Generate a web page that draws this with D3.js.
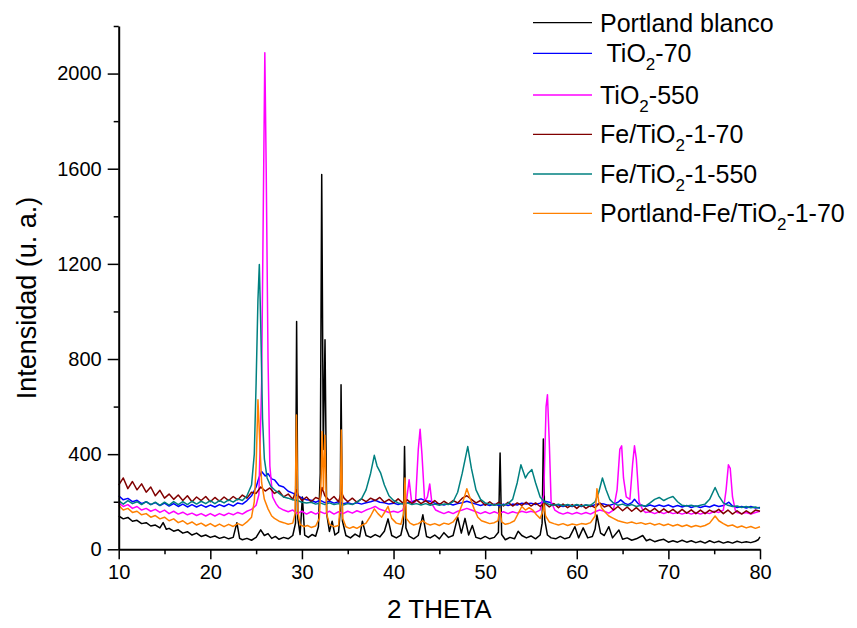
<!DOCTYPE html>
<html>
<head>
<meta charset="utf-8">
<title>DRX</title>
<script src="https://cdn.jsdelivr.net/npm/d3@7"></script>
<style>
  body { margin: 0; background: #fff; }
  text { font-family: Arial, "Liberation Sans", sans-serif; fill: #000; }
  .tick text { font-size: 20px; }
  .legend text { white-space: pre; }
</style>
</head>
<body>
<script>
// patterns: [2 theta, intensity]
const portlandBlanco = [
  [10,140],[10.5,128],[11,134],[11.5,118],[12,122],[12.5,108],[13,112],[13.5,98],[14,102],[14.5,90],[14.85,112],[15.2,84],[15.5,88],[16,76],[16.5,82],[17,68],[17.5,74],[18,60],[18.5,68],[19,54],[19.5,60],[20,50],[20.5,56],[21,46],[21.5,52],[22,44],[22.5,50],[22.9,112],[23.2,46],[23.5,40],[24,46],[24.5,38],[25,50],[25.5,82],[25.9,58],[26.3,66],[26.7,46],[27.1,54],[27.5,42],[28,50],[28.5,44],[29,58],[29.3,110],[29.42,958],[29.55,130],[29.8,62],[30.05,220],[30.3,60],[30.7,50],[31.1,62],[31.5,55],[31.8,95],[32.0,320],[32.16,1576],[32.33,420],[32.52,881],[32.7,150],[33.0,75],[33.3,118],[33.6,60],[34.0,72],[34.18,160],[34.27,692],[34.42,120],[34.8,58],[35.3,48],[35.8,64],[36.3,52],[36.6,118],[37.0,58],[37.5,50],[38,62],[38.5,52],[39,76],[39.4,128],[39.8,58],[40.3,48],[40.8,60],[41.08,110],[41.2,432],[41.35,90],[41.7,55],[42.2,44],[42.7,58],[43.2,145],[43.6,54],[44,48],[44.5,60],[45,44],[45.5,70],[46,50],[46.5,58],[47,135],[47.4,68],[47.8,130],[48.2,60],[48.6,100],[49,50],[49.5,44],[50,54],[50.5,44],[51,50],[51.45,72],[51.63,405],[51.8,62],[52.2,40],[52.7,50],[53.2,44],[53.6,76],[54,58],[54.5,48],[55,56],[55.5,44],[56,60],[56.22,110],[56.35,464],[56.5,125],[56.8,60],[57.2,48],[57.7,44],[58.2,54],[58.7,44],[59.2,50],[59.8,95],[60.2,48],[60.7,90],[61.2,48],[61.7,54],[62.0,85],[62.2,144],[62.6,68],[63.0,58],[63.5,95],[63.9,48],[64.6,81],[65.0,42],[65.5,48],[66,38],[66.5,44],[67.2,58],[67.6,36],[68,42],[68.5,32],[69,38],[69.5,42],[70,30],[70.5,36],[71,30],[71.5,38],[72,30],[72.5,36],[73,28],[73.5,34],[74,26],[74.5,36],[75,28],[75.5,34],[76,26],[76.5,32],[77,26],[77.5,34],[78,28],[78.5,32],[79,28],[79.5,34],[79.8,40],[80,52]
];

const tio2_70 = [
  [10,225],[10.5,208],[11,214],[11.5,200],[12,206],[12.5,192],[13,200],[13.5,188],[14,196],[14.5,184],[15,194],[15.5,182],[16,192],[16.5,180],[17,190],[17.5,178],[18,188],[18.5,178],[19,187],[19.5,177],[20,186],[20.5,178],[21,188],[21.5,180],[22,190],[22.5,182],[23,195],[23.5,190],[24,205],[24.5,225],[25,262],[25.3,300],[25.6,327],[26,308],[26.3,318],[26.7,296],[27,292],[27.5,268],[28,262],[28.5,244],[29,236],[29.5,226],[30,216],[30.5,208],[31,206],[31.5,198],[32,206],[32.5,196],[33,202],[33.5,194],[34,200],[34.5,192],[35,196],[35.5,190],[36,196],[36.5,190],[37,196],[37.5,200],[38,206],[38.5,198],[39,196],[39.5,190],[40,194],[40.5,188],[41,194],[41.5,196],[42,200],[42.5,206],[43,212],[43.5,204],[44,202],[44.5,194],[45,192],[45.5,186],[46,192],[46.5,186],[47,192],[47.5,196],[48,202],[48.5,196],[49,190],[49.5,184],[50,190],[50.5,184],[51,190],[51.5,184],[52,190],[52.5,184],[53,190],[53.5,186],[54,194],[54.5,190],[55,194],[55.5,188],[56,194],[56.5,202],[57,198],[57.5,188],[58,186],[58.5,180],[59,186],[59.5,180],[60,186],[60.5,180],[61,186],[61.5,180],[62,188],[62.5,192],[63,190],[63.5,184],[64,190],[64.5,198],[64.8,208],[65.2,194],[65.6,188],[66,196],[66.3,210],[66.7,192],[67,186],[67.5,180],[68,186],[68.5,180],[69,186],[69.5,180],[70,186],[70.5,178],[71,184],[71.5,178],[72,184],[72.5,176],[73,182],[73.5,176],[74,182],[74.5,178],[75,186],[75.5,180],[76,184],[76.6,198],[77,182],[77.5,176],[78,180],[78.5,174],[79,180],[79.5,174],[80,176]
];

const tio2_550 = [
  [10,195],[10.5,180],[11,188],[11.5,172],[12,180],[12.5,165],[13,172],[13.5,160],[14,168],[14.5,155],[15,165],[15.5,150],[16,160],[16.5,148],[17,156],[17.5,145],[18,152],[18.5,142],[19,150],[19.5,140],[20,150],[20.5,140],[21,150],[21.5,142],[22,152],[22.5,145],[23,155],[23.5,148],[24,160],[24.5,168],[25,185],[25.3,230],[25.6,700],[25.8,1500],[25.95,2088],[26.1,1600],[26.3,800],[26.5,350],[26.8,220],[27.2,190],[27.5,175],[28,165],[28.5,158],[29,165],[29.5,150],[30,160],[30.5,148],[31,158],[31.5,148],[32,158],[32.5,150],[33,160],[33.5,148],[34,158],[34.5,150],[35,160],[35.5,152],[36,162],[36.5,155],[37,165],[37.5,172],[38,180],[38.5,168],[39,162],[39.5,155],[40,160],[40.5,155],[41,165],[41.4,200],[41.7,292],[42.0,190],[42.4,200],[42.7,420],[42.9,505],[43.1,400],[43.4,200],[43.7,220],[43.95,275],[44.2,190],[44.6,165],[45,158],[45.5,150],[46,158],[46.5,150],[47,160],[47.5,165],[48,172],[48.5,165],[49,158],[49.5,150],[50,158],[50.5,150],[51,158],[51.5,150],[52,158],[52.5,150],[53,158],[53.5,152],[54,160],[54.5,155],[55,160],[55.5,155],[56,165],[56.4,230],[56.65,600],[56.8,650],[57.0,450],[57.2,200],[57.6,165],[58,155],[58.5,148],[59,155],[59.5,148],[60,155],[60.5,148],[61,155],[61.5,148],[62,158],[62.5,165],[63,160],[63.5,152],[64,165],[64.4,250],[64.7,420],[64.9,435],[65.1,300],[65.4,220],[65.8,210],[66.1,360],[66.3,435],[66.5,380],[66.8,200],[67.2,165],[67.5,155],[68,158],[68.5,150],[69,158],[69.5,150],[70,158],[70.5,150],[71,155],[71.5,148],[72,155],[72.5,148],[73,155],[73.5,148],[74,155],[74.5,150],[75,160],[75.5,155],[76,165],[76.3,250],[76.55,355],[76.75,340],[77.0,220],[77.3,165],[77.5,155],[78,150],[78.5,155],[79,148],[79.5,155],[80,160]
];

const feTio2_70 = [
  [10,270],[10.5,300],[11,255],[11.5,285],[12,250],[12.5,275],[13,240],[13.5,262],[14,225],[14.5,248],[15,215],[15.5,232],[16,210],[16.5,228],[17,205],[17.5,225],[18,200],[18.5,220],[19,205],[19.5,222],[20,200],[20.5,218],[21,202],[21.5,220],[22,205],[22.5,222],[23,208],[23.5,228],[24,215],[24.5,240],[25,235],[25.5,262],[26,245],[26.5,258],[27,235],[27.5,245],[28,220],[28.5,232],[29,210],[29.4,250],[29.6,225],[30,205],[30.5,220],[31,200],[31.5,218],[32,210],[32.2,260],[32.5,225],[33,205],[33.5,222],[34,200],[34.3,240],[34.6,215],[35,200],[35.5,215],[36,198],[36.5,212],[37,200],[37.5,215],[38,205],[38.5,218],[39,198],[39.5,210],[40,195],[40.5,212],[41,195],[41.5,208],[42,192],[42.5,208],[43,192],[43.5,205],[44,190],[44.5,205],[45,188],[45.5,202],[46,190],[46.5,205],[47,195],[47.5,215],[48,225],[48.5,210],[49,195],[49.5,205],[50,185],[50.5,200],[51,185],[51.5,198],[52,182],[52.5,198],[53,182],[53.5,195],[54,185],[54.5,198],[55,182],[55.5,195],[56,180],[56.5,195],[57,178],[57.5,192],[58,175],[58.5,190],[59,175],[59.5,188],[60,172],[60.5,188],[61,172],[61.5,185],[62,175],[62.5,195],[63,178],[63.5,185],[64,165],[64.5,180],[65,162],[65.5,178],[66,160],[66.5,175],[67,158],[67.5,172],[68,158],[68.5,172],[69,155],[69.5,170],[70,155],[70.5,168],[71,152],[71.5,168],[72,152],[72.5,166],[73,150],[73.5,165],[74,150],[74.5,165],[75,155],[75.5,168],[76,150],[76.5,165],[77,148],[77.5,162],[78,148],[78.5,162],[79,150],[79.5,165],[80,160]
];

const feTio2_550 = [
  [10,205],[10.5,190],[11,205],[11.5,192],[12,200],[12.5,188],[13,200],[13.5,188],[14,198],[14.5,185],[15,198],[15.5,186],[16,200],[16.5,188],[17,200],[17.5,188],[18,202],[18.5,190],[19,202],[19.5,192],[20,205],[20.5,192],[21,205],[21.5,195],[22,208],[22.5,198],[23,212],[23.5,205],[24,225],[24.5,270],[24.8,400],[25.0,700],[25.2,1050],[25.35,1197],[25.5,950],[25.7,550],[25.9,380],[26.2,300],[26.6,265],[27,250],[27.5,235],[28,220],[28.5,215],[29,208],[29.5,205],[30,198],[30.5,195],[31,198],[31.5,190],[32,195],[32.5,188],[33,195],[33.5,188],[34,192],[34.5,186],[35,192],[35.5,188],[36,198],[36.5,212],[37,250],[37.5,320],[37.9,395],[38.2,350],[38.6,320],[39,270],[39.5,225],[40,205],[40.5,195],[41,190],[41.5,195],[42,188],[42.5,192],[43,186],[43.5,192],[44,185],[44.5,190],[45,185],[45.5,190],[46,188],[46.5,200],[47,240],[47.5,320],[48.1,432],[48.5,340],[49,250],[49.5,210],[50,195],[50.5,190],[51,185],[51.5,190],[52,185],[52.5,192],[53,210],[53.5,280],[53.9,355],[54.4,300],[54.7,320],[55.1,335],[55.5,280],[56,220],[56.5,198],[57,188],[57.5,185],[58,190],[58.5,183],[59,188],[59.5,182],[60,188],[60.5,182],[61,186],[61.5,185],[62,200],[62.4,240],[62.8,300],[63.2,250],[63.6,210],[64,195],[64.5,185],[65,190],[65.5,182],[66,188],[66.5,180],[67,185],[67.5,182],[68,195],[68.5,210],[69,218],[69.5,205],[70,215],[70.5,222],[71,200],[71.5,185],[72,182],[72.5,185],[73,180],[73.5,185],[74,190],[74.5,210],[75.1,260],[75.5,225],[76,195],[76.5,185],[77,180],[77.5,182],[78,176],[78.5,180],[79,175],[79.5,178],[80,172]
];

const portlandFeTio2_70 = [
  [10,185],[10.5,165],[11,172],[11.5,155],[12,160],[12.5,145],[13,150],[13.5,135],[14,142],[14.5,128],[15,135],[15.5,120],[16,128],[16.5,112],[17,120],[17.5,106],[18,115],[18.5,102],[19,110],[19.5,98],[20,108],[20.5,96],[21,106],[21.5,95],[22,105],[22.5,96],[23,108],[23.5,100],[24,115],[24.5,135],[24.8,200],[25.0,350],[25.2,629],[25.4,450],[25.6,280],[25.9,210],[26.3,170],[26.7,140],[27,130],[27.5,118],[28,112],[28.5,105],[29,110],[29.25,150],[29.4,565],[29.55,160],[29.8,105],[30.2,95],[30.6,100],[31,92],[31.5,98],[31.9,130],[32.1,300],[32.2,495],[32.35,250],[32.5,480],[32.7,150],[33,105],[33.5,95],[34,100],[34.2,200],[34.3,502],[34.45,130],[34.8,95],[35.2,88],[35.6,95],[36,88],[36.5,100],[37,110],[37.5,140],[37.9,170],[38.3,150],[38.7,135],[39.1,160],[39.4,180],[39.8,130],[40.3,110],[40.8,105],[41.1,150],[41.25,300],[41.4,130],[41.8,110],[42.2,102],[42.7,108],[43.2,120],[43.6,108],[44,102],[44.5,108],[45,100],[45.5,110],[46,105],[46.5,115],[47,140],[47.5,190],[48,255],[48.4,210],[48.8,170],[49.2,135],[49.6,120],[50,115],[50.5,108],[51,112],[51.4,120],[51.6,170],[51.8,115],[52.2,105],[52.7,110],[53.2,120],[53.6,150],[54,180],[54.4,165],[54.8,175],[55.2,165],[55.6,145],[56,130],[56.3,160],[56.4,190],[56.6,140],[57,115],[57.5,108],[58,102],[58.5,108],[59,100],[59.5,106],[60,102],[60.5,108],[61,105],[61.5,112],[62,140],[62.2,255],[62.4,200],[62.7,175],[63,160],[63.5,140],[64,130],[64.5,120],[65,115],[65.5,110],[66,115],[66.5,108],[67,112],[67.5,105],[68,110],[68.5,102],[69,108],[69.5,100],[70,106],[70.5,98],[71,104],[71.5,96],[72,102],[72.5,94],[73,100],[73.5,95],[74,100],[74.5,110],[75.1,140],[75.5,120],[76,108],[76.5,98],[77,102],[77.5,92],[78,98],[78.5,90],[79,96],[79.5,88],[80,95]
];

// legend labels: [before subscript, subscript, after subscript]
const seriesLabels = [
  ["Portland blanco", "", ""],
  [" TiO", "2", "-70"],
  ["TiO", "2", "-550"],
  ["Fe/TiO", "2", "-1-70"],
  ["Fe/TiO", "2", "-1-550"],
  ["Portland-Fe/TiO", "2", "-1-70"]
];
const seriesColors = ["#000000", "#0000ff", "#ff00ff", "#800000", "#008080", "#ff8000"];
const seriesData = [portlandBlanco, tio2_70, tio2_550, feTio2_70, feTio2_550, portlandFeTio2_70];

const xMajor = [10, 20, 30, 40, 50, 60, 70, 80];
const xMinor = [15, 25, 35, 45, 55, 65, 75];
const yMajor = [0, 400, 800, 1200, 1600, 2000];
const yMinor = [200, 600, 1000, 1400, 1800, 2200];

var width = 857, height = 628;
var plotLeft = 118.7, plotRight = 760, plotTop = 26, plotBottom = 549.3;

var x = d3.scaleLinear().domain([10, 80]).range([plotLeft, plotRight]);
var y = d3.scaleLinear().domain([0, 2200]).range([plotBottom, plotTop]);

var svg = d3.select("body").append("svg")
  .attr("width", width)
  .attr("height", height);

// curves, drawn in legend order
var line = d3.line()
  .x(function(d) { return x(d[0]); })
  .y(function(d) { return y(d[1]); });

svg.append("g").attr("class", "curves")
  .selectAll("path")
  .data(seriesData)
  .enter()
  .append("path")
  .attr("d", line)
  .attr("fill", "none")
  .attr("stroke", function(d, i) { return seriesColors[i]; })
  .attr("stroke-width", 1.5)
  .attr("stroke-linejoin", "round");

// axes
svg.append("g")
  .attr("transform", "translate(0," + plotBottom + ")")
  .call(d3.axisBottom(x).tickValues(xMajor).tickSize(10).tickSizeOuter(0).tickPadding(6));
svg.append("g")
  .attr("transform", "translate(0," + plotBottom + ")")
  .call(d3.axisBottom(x).tickValues(xMinor).tickSize(5).tickSizeOuter(0).tickFormat(""))
  .select(".domain").remove();

svg.append("g")
  .attr("transform", "translate(" + plotLeft + ",0)")
  .call(d3.axisLeft(y).tickValues(yMajor).tickSize(11).tickSizeOuter(0).tickPadding(6)
    .tickFormat(d3.format("d")));
svg.append("g")
  .attr("transform", "translate(" + plotLeft + ",0)")
  .call(d3.axisLeft(y).tickValues(yMinor).tickSize(5).tickSizeOuter(0).tickFormat(""))
  .select(".domain").remove();

svg.selectAll(".domain").attr("stroke", "#000").attr("stroke-width", 2);
svg.selectAll(".tick line").attr("stroke", "#000").attr("stroke-width", 1.5);
svg.selectAll(".tick text").attr("fill", "#000").style("font-size", "20px");

// axis titles
svg.append("text")
  .attr("x", (plotLeft + plotRight) / 2)
  .attr("y", 618)
  .style("font-size", "26px")
  .style("text-anchor", "middle")
  .text("2 THETA");

svg.append("text")
  .attr("transform", "translate(36,298) rotate(-90)")
  .style("font-size", "27px")
  .style("text-anchor", "middle")
  .text("Intensidad (u. a.)");

// legend
var rowY = [22.7, 53.3, 95, 134.3, 174, 213.3];
var legend = svg.append("g").attr("class", "legend");
seriesLabels.forEach(function(lab, i) {
  legend.append("line")
    .attr("x1", 533).attr("x2", 592)
    .attr("y1", rowY[i]).attr("y2", rowY[i])
    .attr("stroke", seriesColors[i])
    .attr("stroke-width", 1.3);
  var t = legend.append("text")
    .attr("x", 600)
    .attr("y", rowY[i] + 9)
    .style("font-size", "25px");
  t.append("tspan").text(lab[0]);
  if (lab[1]) {
    t.append("tspan").attr("dy", 8).style("font-size", "17px").text(lab[1]);
    t.append("tspan").attr("dy", -8).text(lab[2]);
  }
});
</script>
</body>
</html>
